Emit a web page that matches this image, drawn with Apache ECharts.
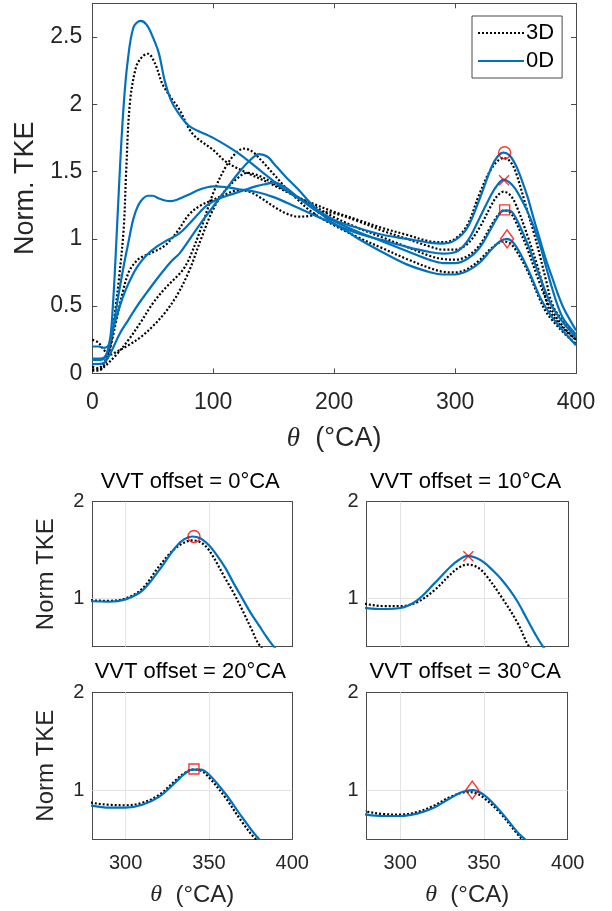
<!DOCTYPE html>
<html>
<head>
<meta charset="utf-8">
<script src="https://cdn.jsdelivr.net/npm/echarts@6/dist/echarts.min.js"></script>
<style>html,body{margin:0;padding:0;background:#fff}#c{width:612px;height:911px}</style>
</head>
<body>
<div id="c"></div>
<script>
// ---- data ----
// 0D model (solid blue), VVT offset 0/10/20/30 °CA
const theta0D_0 = [0,5,10,14,17,20,23,26,29,34,40,45,50,55,60,65,70,80,100,120,140,160,180,200,220,240,260,280,290,300,310,320,330,335,340,345,350,355,360,365,370,375,380,385,390,400];
const tke0D_0   = [0.2,0.2,0.19,0.22,0.5,1.0,1.55,2.0,2.3,2.57,2.62,2.59,2.5,2.38,2.17,2.03,1.95,1.84,1.75,1.64,1.5,1.36,1.25,1.14,1.08,1.03,1.0,0.97,0.965,0.99,1.08,1.29,1.53,1.61,1.64,1.62,1.55,1.44,1.31,1.15,1.0,0.85,0.72,0.59,0.48,0.32];
const theta0D_10 = [0,5,10,14,18,22,26,30,34,38,42,46,50,55,60,65,70,80,90,100,110,120,135,150,170,190,200,220,240,260,280,290,300,310,320,330,335,340,345,350,355,360,365,370,375,380,385,390,400];
const tke0D_10   = [0.11,0.11,0.12,0.2,0.38,0.6,0.8,0.98,1.15,1.25,1.3,1.32,1.32,1.3,1.285,1.28,1.29,1.33,1.37,1.39,1.385,1.37,1.35,1.31,1.23,1.15,1.11,1.04,0.99,0.94,0.9,0.89,0.9,0.98,1.15,1.33,1.4,1.44,1.42,1.37,1.29,1.2,1.09,0.96,0.8,0.64,0.5,0.4,0.29];
const theta0D_20 = [0,5,10,15,20,25,30,37,45,53,62,72,80,86,95,105,115,125,135,145,150,160,170,180,190,200,220,240,260,280,290,300,310,320,330,335,340,345,350,360,370,380,390,400];
const tke0D_20   = [0.1,0.1,0.11,0.25,0.42,0.56,0.67,0.79,0.88,0.94,0.99,1.04,1.11,1.17,1.25,1.3,1.33,1.36,1.39,1.41,1.42,1.38,1.31,1.24,1.18,1.13,1.05,0.98,0.91,0.84,0.82,0.82,0.85,0.93,1.08,1.16,1.21,1.21,1.16,0.96,0.72,0.5,0.37,0.27];
const theta0D_30 = [0,5,10,15,23,30,37,45,55,65,72,80,90,100,110,120,130,138,145,150,160,170,180,190,200,210,220,240,260,280,290,300,310,320,330,337,343,350,360,370,375,380,390,400];
const tke0D_30   = [0.07,0.07,0.08,0.15,0.3,0.4,0.5,0.6,0.72,0.83,0.89,0.99,1.12,1.24,1.36,1.48,1.58,1.63,1.61,1.56,1.46,1.37,1.27,1.18,1.11,1.06,1.0,0.9,0.81,0.75,0.735,0.735,0.76,0.82,0.92,0.98,1.0,0.95,0.78,0.57,0.49,0.42,0.31,0.21];

// 3D CFD (dotted black), VVT offset 0/10/20/30 °CA
const theta3D_0 = [0,5,10,15,18,22,26,28,31,36,41,46,52,58,65,72,83,100,111,128,145,165,180,200,220,240,260,280,290,300,310,320,330,340,345,350,360,365,370,375,381,390,400];
const tke3D_0   = [0.03,0.03,0.06,0.2,0.4,0.7,1.08,1.5,2.0,2.27,2.35,2.375,2.3,2.15,2.05,1.96,1.78,1.66,1.57,1.49,1.42,1.33,1.27,1.2,1.14,1.08,1.03,0.98,0.975,1.0,1.1,1.33,1.52,1.6,1.58,1.5,1.2,1.05,0.88,0.7,0.5,0.38,0.27];
const theta3D_10 = [0,5,10,15,20,25,30,35,40,50,60,70,80,90,100,110,120,130,140,150,160,170,180,190,200,220,240,260,280,290,300,310,320,330,335,340,345,350,360,370,376,380,390,400];
const tke3D_10   = [0.05,0.04,0.08,0.2,0.4,0.6,0.75,0.82,0.86,0.9,0.95,1.05,1.18,1.25,1.29,1.33,1.36,1.35,1.3,1.24,1.19,1.165,1.17,1.2,1.19,1.13,1.06,1.0,0.94,0.92,0.92,0.96,1.08,1.25,1.32,1.35,1.33,1.26,1.02,0.74,0.52,0.44,0.33,0.25];
const theta3D_20 = [0,5,10,15,20,30,40,50,60,70,80,90,100,110,120,128,140,150,160,170,180,190,200,220,240,260,280,290,300,310,320,330,335,340,345,350,360,370,378,390,400];
const tke3D_20   = [0.25,0.23,0.17,0.14,0.16,0.21,0.27,0.35,0.45,0.58,0.76,1.0,1.22,1.36,1.45,1.49,1.46,1.41,1.36,1.31,1.26,1.21,1.16,1.08,1.01,0.94,0.87,0.85,0.845,0.87,0.95,1.1,1.17,1.21,1.2,1.13,0.92,0.67,0.5,0.34,0.25];
const theta3D_30 = [0,5,10,20,30,40,50,60,70,75,80,90,100,110,118,125,132,140,150,160,170,180,190,200,220,240,260,280,290,300,310,320,330,340,345,350,360,370,375,380,390,400];
const tke3D_30   = [0.02,0.02,0.05,0.14,0.25,0.38,0.52,0.63,0.72,0.77,0.85,1.08,1.34,1.53,1.63,1.67,1.65,1.58,1.48,1.38,1.29,1.21,1.15,1.1,1.01,0.93,0.85,0.78,0.755,0.75,0.775,0.84,0.93,0.98,0.97,0.92,0.76,0.55,0.46,0.4,0.3,0.22];

// red peak markers (one per VVT offset)
const markerTheta = [341, 340.5, 341, 343];
const markerTKE   = [1.64, 1.435, 1.215, 1.0];

const vvtOffsets = [0, 10, 20, 30];
const mainXTicks = [0, 100, 200, 300, 400];
const subXTicks = [300, 350, 400];

// ---- build ----
const zip = (xs, ys) => xs.map((x, i) => [x, ys[i]]);
const curves0D = [zip(theta0D_0, tke0D_0), zip(theta0D_10, tke0D_10), zip(theta0D_20, tke0D_20), zip(theta0D_30, tke0D_30)];
const curves3D = [zip(theta3D_0, tke3D_0), zip(theta3D_10, tke3D_10), zip(theta3D_20, tke3D_20), zip(theta3D_30, tke3D_30)];

const BLUE = '#0072BD';
const AX = '#4a4a4a';
const TXT = '#262626';
const FONT = '"Liberation Sans", Arial, sans-serif';
const markerSymbols = ['circle', 'path://M0,0L10,10M10,0L0,10', 'rect', 'diamond'];
const markerSizes = [12, 10, 10, [13, 18]];

const grids = [
  {left: 92.3, top: 3.3, width: 483.7, height: 370.1},
  {left: 92.3, top: 501.7, width: 200, height: 145},
  {left: 366.7, top: 501.7, width: 201.6, height: 145},
  {left: 92.3, top: 692.3, width: 200, height: 146.7},
  {left: 366.7, top: 692.3, width: 201, height: 146.7}
];

const xAxes = [], yAxes = [], series = [];
const thetaName = '{t|θ}  (°CA)';

grids.forEach((g, gi) => {
  const isMain = gi === 0;
  const isBottomRow = gi >= 3;
  const isLeftCol = gi === 1 || gi === 3;
  const lineStyle = {color: AX, width: 1};
  xAxes.push({
    gridIndex: gi, type: 'value', position: 'bottom',
    min: isMain ? 0 : 280, max: 400, interval: isMain ? 100 : 10,
    axisLine: {show: true, onZero: false, lineStyle},
    axisTick: {show: isMain, inside: true, length: 5, lineStyle},
    splitLine: {show: false},
    axisLabel: {
      show: isMain || isBottomRow, margin: isMain ? 18 : 14,
      color: TXT, fontFamily: FONT, fontSize: isMain ? 23 : 20,
      formatter: v => (isMain ? mainXTicks : subXTicks).includes(v) ? String(v) : '',
      showMinLabel: isMain
    },
    name: (isMain || isBottomRow) ? thetaName : '',
    nameLocation: 'middle', nameGap: isMain ? 52 : 44,
    nameTextStyle: {color: TXT, fontFamily: FONT, fontSize: isMain ? 27 : 24,
      rich: {t: {fontFamily: '"Liberation Serif", serif', fontStyle: 'italic', fontSize: isMain ? 27 : 24, color: TXT}}}
  });
  xAxes.push({
    gridIndex: gi, type: 'value', position: 'top',
    min: isMain ? 0 : 280, max: 400, interval: isMain ? 100 : 10,
    axisLine: {show: true, onZero: false, lineStyle},
    axisTick: {show: isMain, inside: true, length: 5, lineStyle},
    axisLabel: {show: false}, splitLine: {show: false}
  });
  yAxes.push({
    gridIndex: gi, type: 'value', position: 'left',
    min: isMain ? 0 : 0.5, max: isMain ? 2.75 : 2, interval: 0.5,
    axisLine: {show: true, onZero: false, lineStyle},
    axisTick: {show: isMain, inside: true, length: 5, lineStyle},
    splitLine: {show: false},
    axisLabel: {
      show: true, margin: isMain ? 10 : 8, color: TXT, fontFamily: FONT, fontSize: isMain ? 23 : 20,
      formatter: v => isMain ? (Math.abs(v * 2 - Math.round(v * 2)) < 1e-9 && v <= 2.5 ? String(v) : '')
                             : (Math.abs(v - Math.round(v)) < 1e-9 ? String(v) : ''),
      showMaxLabel: !isMain
    },
    name: isMain ? 'Norm. TKE' : (isLeftCol ? 'Norm TKE' : ''),
    nameLocation: 'middle', nameGap: isMain ? 52 : 34, nameRotate: 90,
    nameTextStyle: {color: TXT, fontFamily: FONT, fontSize: isMain ? 27 : 24}
  });
  yAxes.push({
    gridIndex: gi, type: 'value', position: 'right',
    min: isMain ? 0 : 0.5, max: isMain ? 2.75 : 2, interval: 0.5,
    axisLine: {show: true, onZero: false, lineStyle},
    axisTick: {show: isMain, inside: true, length: 5, lineStyle},
    axisLabel: {show: false}, splitLine: {show: false}
  });
});

function lineSeries(name, data, gi, is3D, extra) {
  return Object.assign({
    type: 'line', name, data, xAxisIndex: 2 * gi, yAxisIndex: 2 * gi,
    smooth: 0.35, showSymbol: false, symbol: 'none', clip: true, z: is3D ? 2 : 3,
    lineStyle: is3D ? {color: '#000', width: 2.2, type: [2, 2], cap: 'butt'} : {color: BLUE, width: 2.2},
    itemStyle: {color: is3D ? '#000' : BLUE},
    emphasis: {disabled: true}, silent: true
  }, extra || {});
}
function markerSeries(k, gi) {
  return {
    type: 'scatter', data: [[markerTheta[k], markerTKE[k]]], xAxisIndex: 2 * gi, yAxisIndex: 2 * gi,
    symbol: markerSymbols[k], symbolSize: markerSizes[k], z: 5,
    itemStyle: {color: 'rgba(0,0,0,0)', borderColor: '#ff0000', borderWidth: 1.4},
    emphasis: {disabled: true}, silent: true
  };
}

curves3D.forEach(c => series.push(lineSeries('3D', c, 0, true)));
curves0D.forEach(c => series.push(lineSeries('0D', c, 0, false)));
vvtOffsets.forEach((o, k) => series.push(markerSeries(k, 0)));

vvtOffsets.forEach((o, k) => {
  const gi = k + 1;
  series.push(lineSeries('3D', curves3D[k], gi, true, {
    markLine: {
      silent: true, symbol: 'none', z: 1, animation: false,
      label: {show: false},
      lineStyle: {color: '#e3e3e3', width: 1, type: 'solid'},
      data: [{xAxis: 300}, {xAxis: 350}, {yAxis: 1}]
    }
  }));
  series.push(lineSeries('0D', curves0D[k], gi, false));
  series.push(markerSeries(k, gi));
});

const titles = vvtOffsets.map((o, k) => {
  const g = grids[k + 1];
  return {
    text: 'VVT offset = ' + o + '°CA',
    left: g.left + g.width / 2 - 2, top: g.top - 31, textAlign: 'center', padding: 0,
    textStyle: {color: '#000', fontFamily: FONT, fontSize: 22, fontWeight: 'normal'}
  };
});

const chart = echarts.init(document.getElementById('c'), null, {renderer: 'canvas'});
chart.setOption({
  animation: false,
  backgroundColor: '#fff',
  title: titles,
  legend: {
    data: ['3D', '0D'], orient: 'vertical', left: 472, top: 16,
    width: 92, itemWidth: 46, itemHeight: 14, itemGap: 4,
    padding: [5, 8, 5, 5], borderColor: AX, borderWidth: 1, backgroundColor: '#fff',
    selectedMode: false,
    itemStyle: {color: 'rgba(0,0,0,0)', borderWidth: 0, opacity: 0},
    textStyle: {color: '#000', fontFamily: FONT, fontSize: 22, lineHeight: 24, padding: [0, 0, 0, -3]}
  },
  grid: grids.map(g => Object.assign({containLabel: false}, g)),
  xAxis: xAxes, yAxis: yAxes, series
});
</script>
</body>
</html>
